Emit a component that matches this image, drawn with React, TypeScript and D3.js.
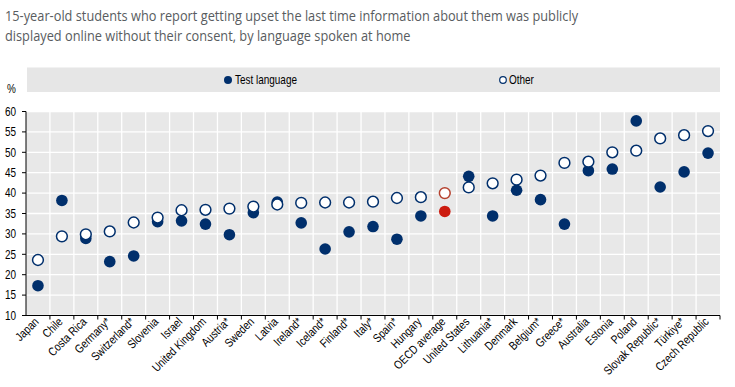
import React from "react";
import * as d3 from "d3";

const titleLines = [
  "15-year-old students who report getting upset the last time information about them was publicly",
  "displayed online without their consent, by language spoken at home",
];

const categories = [
  "Japan", "Chile", "Costa Rica", "Germany*", "Switzerland*", "Slovenia", "Israel",
  "United Kingdom", "Austria*", "Sweden", "Latvia", "Ireland*", "Iceland*", "Finland*",
  "Italy*", "Spain*", "Hungary", "OECD average", "United States", "Lithuania*", "Denmark",
  "Belgium*", "Greece*", "Australia", "Estonia", "Poland", "Slovak Republic*", "Türkiye*",
  "Czech Republic",
];

const testLanguage = [
  17.3, 38.2, 28.9, 23.2, 24.6, 33.0, 33.2, 32.4, 29.8, 35.2, 37.8, 32.7, 26.3, 30.5,
  31.8, 28.7, 34.4, 35.5, 44.1, 34.4, 40.7, 38.4, 32.4, 45.5, 45.9, 57.7, 41.5, 45.2, 49.8,
];

const otherLanguage = [
  23.6, 29.4, 29.9, 30.6, 32.8, 34.0, 35.8, 35.9, 36.2, 36.7, 37.2, 37.6, 37.7, 37.7,
  37.9, 38.8, 39.0, 40.0, 41.4, 42.4, 43.3, 44.3, 47.4, 47.7, 50.0, 50.4, 53.4, 54.2, 55.2,
];

const yTicks = [10, 15, 20, 25, 30, 35, 40, 45, 50, 55, 60];
const legendLabels = ["Test language", "Other"];

const W = 735;
const H = 387;
const M = { left: 26, right: 720, top: 111.5, bottom: 315.5 };
const NAVY = "#002F6C";
const RED = "#CC1B0F";
const RED_STROKE = "#B5422F";
const HIGHLIGHT = "OECD average";
const TICK_FONT = "'Liberation Sans', Arial, sans-serif";
const NARROW = 0.83;

function NarrowText({
  x, y, children, anchor = "start", size = 12, rotate = 0, dy,
}: {
  x: number; y: number; children: React.ReactNode; anchor?: string; size?: number; rotate?: number; dy?: string;
}) {
  return (
    <text
      transform={`translate(${x},${y}) rotate(${rotate}) scale(${NARROW},1)`}
      textAnchor={anchor as any}
      dy={dy}
      fontFamily={TICK_FONT}
      fontSize={size}
      fill="#000"
    >
      {children}
    </text>
  );
}

export default function App() {
  const x = d3.scaleBand<string>().domain(categories).range([M.left, M.right]);
  const y = d3.scaleLinear().domain([10, 60]).range([M.bottom, M.top]);
  const bw = x.bandwidth();
  const r = 5.8;

  return (
    <svg
      width={W}
      height={H}
      viewBox={`0 0 ${W} ${H}`}
      style={{ position: "absolute", left: 0, top: 0, background: "#fff" }}
    >
      {/* Title */}
      <g fontFamily="'Open Sans', 'Noto Sans', sans-serif" fontSize={14.2} fill="#585c60">
        {titleLines.map((t, i) => (
          <text key={i} transform={`translate(5,${21 + i * 20}) scale(0.9,1)`}>{t}</text>
        ))}
      </g>

      {/* Legend */}
      <rect x={27} y={67.5} width={693} height={24.5} fill="#e6e6e6" />
      <circle cx={228} cy={80} r={4} fill={NAVY} />
      <NarrowText x={235} y={84}>{legendLabels[0]}</NarrowText>
      <circle cx={503} cy={80} r={3.3} fill="#fff" stroke={NAVY} strokeWidth={1.2} />
      <NarrowText x={509} y={84}>{legendLabels[1]}</NarrowText>

      <NarrowText x={7} y={93}>%</NarrowText>

      {/* Plot background */}
      <rect x={M.left} y={M.top} width={M.right - M.left} height={M.bottom - M.top} fill="#e8e8e8" />

      {/* Horizontal grid */}
      {yTicks.map((t) => (
        <line key={"h" + t} x1={M.left} x2={M.right} y1={y(t)} y2={y(t)} stroke="#fff" strokeWidth={1.3} />
      ))}
      {/* Vertical grid */}
      {categories.slice(1).map((c) => (
        <line key={"v" + c} x1={x(c)!} x2={x(c)!} y1={M.top} y2={M.bottom} stroke="#fff" strokeWidth={1.3} />
      ))}

      {/* Axes */}
      <line x1={M.left} x2={M.left} y1={M.top} y2={M.bottom} stroke="#000" strokeWidth={1} />
      <line x1={M.left} x2={M.right} y1={M.bottom} y2={M.bottom} stroke="#000" strokeWidth={1} />
      {yTicks.map((t) => (
        <g key={"yt" + t}>
          <line x1={M.left - 4} x2={M.left} y1={y(t)} y2={y(t)} stroke="#000" />
          <NarrowText x={M.left - 10} y={y(t)} dy="0.35em" anchor="end">{t}</NarrowText>
        </g>
      ))}
      {categories.map((c) => (
        <line key={"xt" + c} x1={x(c)! + bw} x2={x(c)! + bw} y1={M.bottom} y2={M.bottom + 4} stroke="#000" />
      ))}
      {categories.map((c) => (
        <NarrowText
          key={"xl" + c}
          x={x(c)! + bw / 2 + 1.5}
          y={M.bottom + 7}
          anchor="end"
          rotate={-45}
          size={12}
        >
          {c}
        </NarrowText>
      ))}

      {/* Filled markers: test language */}
      {categories.map((c, i) => (
        <circle
          key={"f" + c}
          cx={x(c)! + bw / 2}
          cy={y(testLanguage[i])}
          r={r}
          fill={c === HIGHLIGHT ? RED : NAVY}
        />
      ))}
      {/* Open markers: other */}
      {categories.map((c, i) => (
        <circle
          key={"o" + c}
          cx={x(c)! + bw / 2}
          cy={y(otherLanguage[i])}
          r={r - 0.4}
          fill="#fff"
          stroke={c === HIGHLIGHT ? RED_STROKE : NAVY}
          strokeWidth={1.5}
        />
      ))}
    </svg>
  );
}
